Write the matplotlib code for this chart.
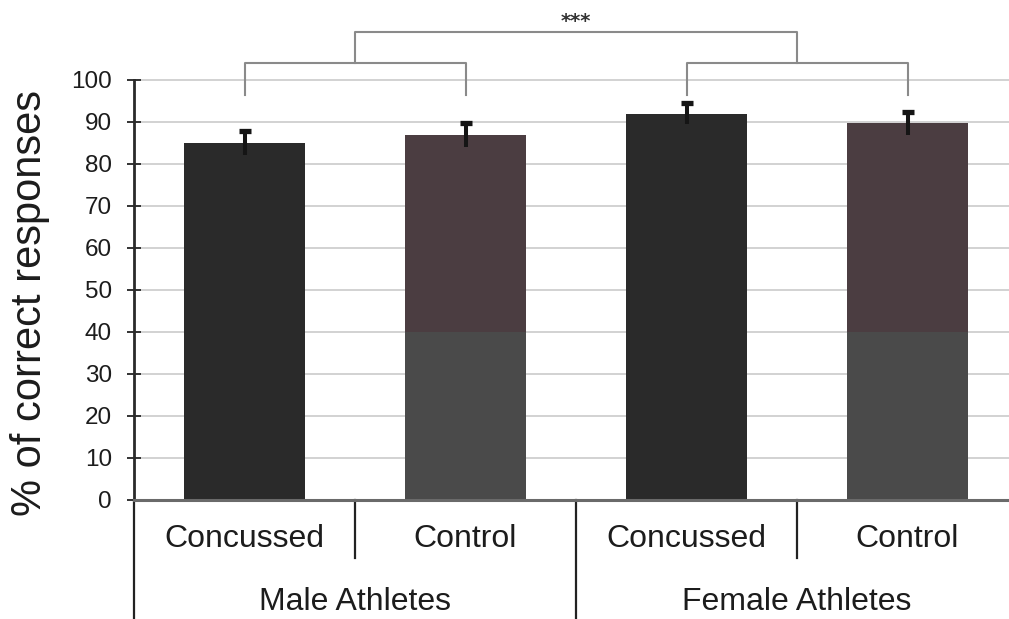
import matplotlib
matplotlib.use("Agg")
import matplotlib.pyplot as plt

plt.rcParams['font.family'] = ['Liberation Sans', 'DejaVu Sans']

# Data
groups = ["Male Athletes", "Female Athletes"]
conditions = ["Concussed", "Control", "Concussed", "Control"]
scores = [85.0, 86.9, 92.0, 89.7]
errors = [2.9, 2.9, 2.5, 2.8]
yticks = [0, 10, 20, 30, 40, 50, 60, 70, 80, 90, 100]
significance = "***"

W, H = 1009, 619
fig = plt.figure(figsize=(W / 100, H / 100), dpi=100)
ax = fig.add_axes([134 / W, (H - 500) / H, 884 / W, 420 / H])

x = list(range(len(scores)))
concussed_col = "#2a2a2a"
control_top = "#4b3d41"
control_low = "#4a4a4a"
colors = [concussed_col if c == "Concussed" else control_top for c in conditions]
bw = 0.545

ax.bar(x, scores, width=bw, color=colors, zorder=3, linewidth=0)
# lower tone of the control bars
ctrl_idx = [i for i, c in enumerate(conditions) if c == "Control"]
ax.bar([x[i] for i in ctrl_idx], [min(scores[i], 40) for i in ctrl_idx],
       width=bw, color=control_low, zorder=3, linewidth=0)

# error bars: full stem, cap on the upper end only
lo = [s - e for s, e in zip(scores, errors)]
hi = [s + e for s, e in zip(scores, errors)]
ax.vlines(x, lo, hi, color="#151515", lw=2.9, zorder=4)
ax.plot(x, hi, linestyle="none", marker="_", markersize=9, mew=3.8,
        color="#151515", zorder=4)

ax.set_xlim(-0.5, 3.5)
ax.set_ylim(0, 100)
ax.set_yticks(yticks)
ax.set_yticklabels([str(t) for t in yticks], fontsize=17.5, color="#1c1c1c")
ax.set_xticks([])
ax.tick_params(axis="y", direction="inout", length=10, width=1.4,
               color="#333333", pad=11)

for t in yticks[1:]:
    ax.axhline(t, color="#d2d2d2", lw=1.4, zorder=1, clip_on=False,
               xmax=(W - 134) / 884)

for s in ["top", "right"]:
    ax.spines[s].set_visible(False)
ax.spines["left"].set_color("#2a2a2a")
ax.spines["left"].set_linewidth(2.0)
ax.spines["bottom"].set_color("#6a6a6a")
ax.spines["bottom"].set_linewidth(2.2)
ax.spines["bottom"].set_zorder(5)

# category table below the axis
px = 4.2  # pixels per unit
def yd(pix):
    return (500 - pix) / px

line_kw = dict(color="#222222", lw=1.6, clip_on=False, zorder=5)
ax.plot([-0.5, -0.5], [0, yd(625)], **line_kw)
ax.plot([1.5, 1.5], [0, yd(625)], **line_kw)
ax.plot([0.5, 0.5], [0, yd(558)], **line_kw)
ax.plot([2.5, 2.5], [0, yd(558)], **line_kw)

for xi, c in zip(x, conditions):
    ax.text(xi, yd(539), c, ha="center", va="center", fontsize=23,
            color="#1c1c1c", clip_on=False)
for gi, g in enumerate(groups):
    ax.text(0.5 + 2 * gi, yd(602), g, ha="center", va="center", fontsize=23,
            color="#1c1c1c", clip_on=False)

# significance brackets
br_kw = dict(color="#8a8a8a", lw=1.5, clip_on=False, zorder=2)
leg_bottom = yd(95)
mid = yd(63)
top = yd(32)
for a, b in [(0, 1), (2, 3)]:
    ax.plot([a, a, b, b], [leg_bottom, mid, mid, leg_bottom], **br_kw)
ax.plot([0.5, 0.5, 2.5, 2.5], [mid, top, top, mid], **br_kw)
ax.text(1.5, yd(21), significance, ha="center", va="center", fontsize=14,
        fontweight="bold", color="#333333", family="DejaVu Sans", clip_on=False)

fig.text(30 / W, (H - 303) / H, "% of correct responses", rotation=90,
         ha="center", va="center", fontsize=30, color="#1c1c1c")

fig.savefig("out.png", dpi=100)
